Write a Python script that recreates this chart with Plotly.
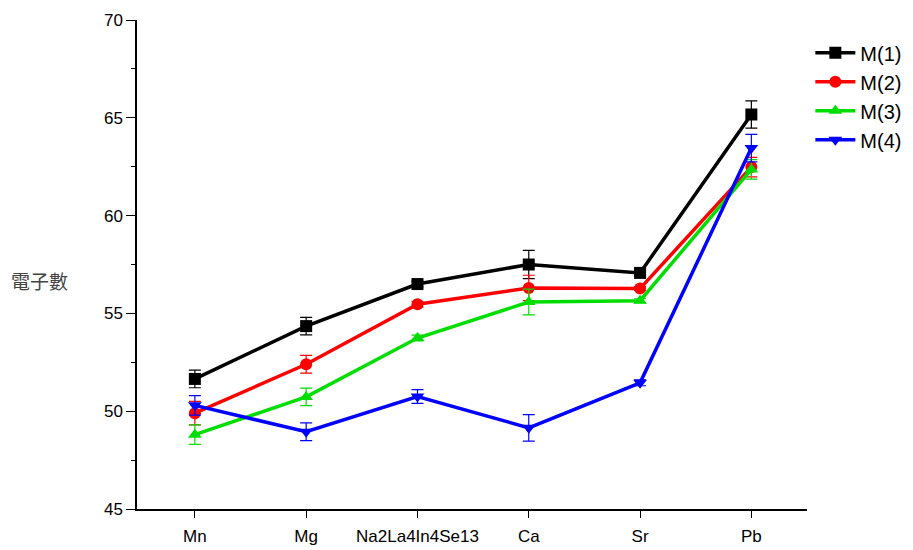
import plotly.graph_objects as go

categories = ["Mn", "Mg", "Na2La4In4Se13", "Ca", "Sr", "Pb"]
series_names = ["M(1)", "M(2)", "M(3)", "M(4)"]
m1 = [51.65, 54.35, 56.5, 57.5, 57.07, 65.17]
m2 = [49.9, 52.4, 55.47, 56.3, 56.27, 62.48]
m3 = [48.8, 50.73, 53.74, 55.58, 55.65, 62.36]
m4 = [50.3, 48.95, 50.75, 49.15, 51.45, 63.45]
e1 = [0.45, 0.45, 0.15, 0.72, 0.1, 0.7]
e2 = [0.6, 0.45, 0.15, 0.65, 0.1, 0.5]
e3 = [0.5, 0.45, 0.15, 0.66, 0.1, 0.5]
e4 = [0.5, 0.45, 0.35, 0.68, 0.15, 0.7]

colors = ["#000000", "#ff0000", "#00dd00", "#0000ff"]
symbols = ["square", "circle", "triangle-up", "triangle-down"]

fig = go.Figure()
for name, ys, es, c, s in zip(series_names, [m1, m2, m3, m4], [e1, e2, e3, e4], colors, symbols):
    fig.add_trace(go.Scatter(
        x=list(range(len(categories))), y=ys, name=name, mode="lines+markers",
        line=dict(color=c, width=3.5),
        marker=dict(symbol=s, size=12, color=c),
        error_y=dict(type="data", array=es, visible=True, color=c, thickness=1.2, width=6),
    ))

fig.update_layout(
    width=905, height=542,
    margin=dict(l=129, r=106, t=12, b=41, autoexpand=False),
    plot_bgcolor="white", paper_bgcolor="white",
    font=dict(family="Liberation Sans, Arial, sans-serif", size=17, color="black"),
    showlegend=True,
    legend=dict(x=1.005, y=0.973, xanchor="left", yanchor="top", xref="paper", yref="paper",
                font=dict(size=20), itemwidth=40, tracegroupgap=0, bgcolor="rgba(0,0,0,0)"),
    annotations=[dict(text="電子數", x=-0.145, y=0.468, xref="paper", yref="paper",
                      showarrow=False, xanchor="center", yanchor="middle",
                      font=dict(family="Noto Sans CJK TC", size=19, color="#444444"))],
)
fig.update_xaxes(
    range=[-0.52, 5.5], tickmode="array", tickvals=list(range(len(categories))), ticktext=categories,
    showline=True, linecolor="black", linewidth=1.5, ticks="outside", ticklen=7, tickcolor="black",
    showgrid=False, zeroline=False, tickfont=dict(size=17), ticklabelstandoff=4, automargin=False,
)
fig.update_yaxes(
    range=[45, 70], dtick=5, tick0=45,
    showline=True, linecolor="black", linewidth=1.5, ticks="outside", ticklen=9, tickcolor="black",
    minor=dict(dtick=2.5, ticks="outside", ticklen=4, tickcolor="black", showgrid=False),
    showgrid=False, zeroline=False, tickfont=dict(size=17), automargin=False,
)

fig.write_html("out.html")
